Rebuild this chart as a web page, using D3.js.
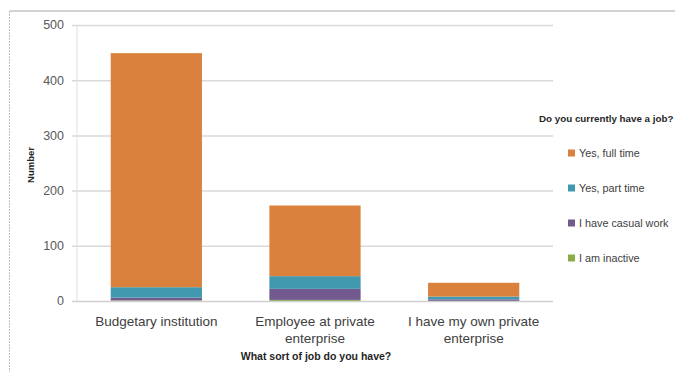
<!DOCTYPE html>
<html>
<head>
<meta charset="utf-8">
<script src="https://cdn.jsdelivr.net/npm/d3@7/dist/d3.min.js"></script>
<style>
  html, body { margin: 0; padding: 0; background: #fff; }
  svg { display: block; font-family: "Liberation Sans", Arial, sans-serif; }
</style>
</head>
<body>
<svg id="chart" width="675" height="372"></svg>
<script>
// Job type categories (x axis)
const categories = [
  ["Budgetary institution"],
  ["Employee at private", "enterprise"],
  ["I have my own private", "enterprise"]
];
const categoryKeys = ["Budgetary institution", "Employee at private enterprise", "I have my own private enterprise"];

// Employment status series, stacked bottom to top
const seriesNames = ["I am inactive", "I have casual work", "Yes, part time", "Yes, full time"];
const inactive   = [1, 2, 0];
const casualWork = [5, 20, 3];
const partTime   = [19, 23, 5];
const fullTime   = [424, 128, 25];
const seriesColors = ["#8AAE47", "#735A8E", "#4199B0", "#DA823D"];

const yTicks = [0, 100, 200, 300, 400, 500];

const svg = d3.select("#chart");

// frame
svg.append("line").attr("x1", 9.5).attr("x2", 675).attr("y1", 11).attr("y2", 11)
  .attr("stroke", "#a6a6a6").attr("stroke-width", 1);
svg.append("line").attr("x1", 9.5).attr("x2", 9.5).attr("y1", 11).attr("y2", 372)
  .attr("stroke", "#bfbfbf").attr("stroke-width", 1).attr("stroke-dasharray", "2,1");

const plot = { left: 77, right: 553, top: 25, bottom: 301 };

const x = d3.scaleBand().domain(categoryKeys).range([plot.left, plot.right]).paddingInner(0.425).paddingOuter(0.2125);
const y = d3.scaleLinear().domain([0, 500]).range([plot.bottom, plot.top]);

// gridlines with outside tick marks
svg.append("g").selectAll("line").data(yTicks.slice(1)).join("line")
  .attr("x1", plot.left - 5).attr("x2", plot.right)
  .attr("y1", d => y(d) + 0.5).attr("y2", d => y(d) + 0.5)
  .attr("stroke", "#d9d9d9").attr("stroke-width", 1.5);

// stacked data
const rows = categoryKeys.map((k, i) => ({
  key: k,
  "I am inactive": inactive[i],
  "I have casual work": casualWork[i],
  "Yes, part time": partTime[i],
  "Yes, full time": fullTime[i]
}));
const stacked = d3.stack().keys(seriesNames)(rows);

svg.append("g").selectAll("g").data(stacked).join("g")
  .attr("fill", (d, i) => seriesColors[i])
  .selectAll("rect").data(d => d).join("rect")
  .attr("x", d => x(d.data.key))
  .attr("width", x.bandwidth())
  .attr("y", d => y(d[1]))
  .attr("height", d => Math.max(0, y(d[0]) - y(d[1])));

// axes lines
svg.append("line").attr("x1", plot.left - 5).attr("x2", plot.right)
  .attr("y1", plot.bottom + 0.5).attr("y2", plot.bottom + 0.5)
  .attr("stroke", "#d0d0d0").attr("stroke-width", 1.5);
svg.append("line").attr("x1", plot.left).attr("x2", plot.left)
  .attr("y1", plot.top).attr("y2", plot.bottom)
  .attr("stroke", "#e0e0e0").attr("stroke-width", 1);

// y tick labels
svg.append("g").selectAll("text").data(yTicks).join("text")
  .attr("x", 64).attr("y", d => y(d))
  .attr("dy", "0.35em").attr("text-anchor", "end")
  .attr("font-size", 12.5).attr("fill", "#595959")
  .text(d => d);

// x category labels
const xl = svg.append("g").selectAll("text").data(categoryKeys).join("text")
  .attr("x", d => x(d) + x.bandwidth() / 2)
  .attr("y", 326)
  .attr("text-anchor", "middle")
  .attr("font-size", 13.5).attr("fill", "#404040");
xl.each(function(d, i) {
  const t = d3.select(this);
  categories[i].forEach((line, j) => {
    t.append("tspan").attr("x", x(d) + x.bandwidth() / 2).attr("dy", j === 0 ? 0 : 17).text(line);
  });
});

// axis titles
svg.append("text").attr("x", 316).attr("y", 360).attr("text-anchor", "middle")
  .attr("font-size", 10.5).attr("font-weight", "bold").attr("fill", "#262626")
  .text("What sort of job do you have?");
svg.append("text").attr("transform", "translate(34,165) rotate(-90)").attr("text-anchor", "middle")
  .attr("font-size", 9.5).attr("font-weight", "bold").attr("fill", "#262626")
  .text("Number");

// legend
svg.append("text").attr("x", 539).attr("y", 122)
  .attr("font-size", 9.8).attr("font-weight", "bold").attr("fill", "#262626")
  .text("Do you currently have a job?");
const legendOrder = [3, 2, 1, 0];
const lg = svg.append("g").selectAll("g").data(legendOrder).join("g")
  .attr("transform", (d, i) => `translate(568,${153 + i * 35})`);
lg.append("rect").attr("x", 0).attr("y", -3.5).attr("width", 7).attr("height", 7)
  .attr("fill", d => seriesColors[d]);
lg.append("text").attr("x", 11).attr("y", 0).attr("dy", "0.35em")
  .attr("font-size", 10.8).attr("fill", "#404040")
  .text(d => seriesNames[d]);
</script>
</body>
</html>
